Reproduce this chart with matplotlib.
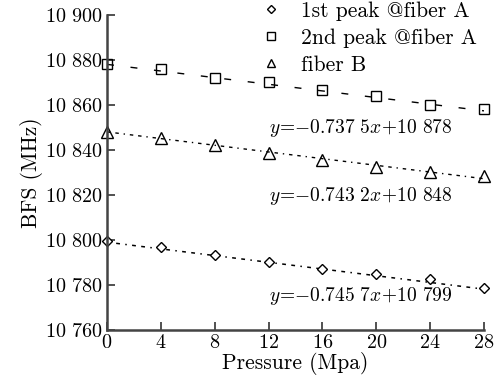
import matplotlib.pyplot as plt
import numpy as np

plt.rcParams['font.family'] = ['cmr10', 'DejaVu Serif']
plt.rcParams['mathtext.fontset'] = 'cm'
plt.rcParams['axes.unicode_minus'] = False

pressure = [0, 4, 8, 12, 16, 20, 24, 28]
peak1_A = [10799.6, 10797.0, 10793.3, 10790.2, 10787.0, 10785.0, 10782.5, 10778.6]
peak2_A = [10878.0, 10876.0, 10872.0, 10870.0, 10866.7, 10864.0, 10860.0, 10858.2]
fiber_B = [10848.0, 10845.3, 10842.0, 10838.5, 10835.5, 10832.5, 10830.0, 10828.5]

# fit coefficients as printed on the chart
fit_slope = {'p1': -0.7457, 'p2': -0.7375, 'b': -0.7432}
fit_icpt = {'p1': 10799, 'p2': 10878, 'b': 10848}
fit_text = {'p1': r'$y\!=\!{-}0.745\ 7x\!+\!10\ 799$',
            'p2': r'$y\!=\!{-}0.737\ 5x\!+\!10\ 878$',
            'b': r'$y\!=\!{-}0.743\ 2x\!+\!10\ 848$'}

yticks = [10760, 10780, 10800, 10820, 10840, 10860, 10880, 10900]
ytick_labels = [r'$10\ %s$' % str(v)[2:] for v in yticks]
xticks = [0, 4, 8, 12, 16, 20, 24, 28]

fig = plt.figure(figsize=(4.98, 3.81), dpi=100)
ax = fig.add_axes([0.215, 0.134, 0.757, 0.827])

xf = np.array([pressure[0], pressure[-1]])
ax.plot(xf, fit_slope['p2']*xf + fit_icpt['p2'], color='black', lw=1.0, dashes=(5, 12))
ax.plot(xf, fit_slope['b']*xf + fit_icpt['b'], color='black', lw=1.0, dashes=(2.5, 3.5, 2.5, 3.5, 1, 3.5))
ax.plot(xf, fit_slope['p1']*xf + fit_icpt['p1'], color='black', lw=1.1, dashes=(2.5, 3.5, 2.5, 3.5, 1, 3.5))

ax.plot(pressure, peak1_A, ls='none', marker='D', ms=5.5, mfc='white', mec='black', mew=1.0,
        label='1st peak @fiber A', clip_on=False)
ax.plot(pressure, peak2_A, ls='none', marker='s', ms=7.5, mfc='none', mec='black', mew=1.0,
        label='2nd peak @fiber A', clip_on=False)
ax.plot(pressure, fiber_B, ls='none', marker='^', ms=8.5, mfc='none', mec='black', mew=1.0,
        label='fiber B', clip_on=False)

ax.text(12.0, 10849.8, fit_text['p2'], fontsize=14, va='center', ha='left')
ax.text(12.0, 10819.6, fit_text['b'], fontsize=14, va='center', ha='left')
ax.text(12.0, 10775.1, fit_text['p1'], fontsize=14, va='center', ha='left')

ax.set_xlim(0, 28)
ax.set_ylim(10760, 10900)
ax.set_xticks(xticks)
ax.set_xticklabels([r'$%d$' % v for v in xticks])
ax.set_yticks(yticks)
ax.set_yticklabels(ytick_labels)
ax.tick_params(direction='in', labelsize=14.5, length=6, width=1.2, colors='#333333',
               labelcolor='black', pad=3)
for s in ['top', 'right']:
    ax.spines[s].set_visible(False)
for s in ['left', 'bottom']:
    ax.spines[s].set_linewidth(1.8)
    ax.spines[s].set_color('#444444')

ax.set_xlabel('Pressure (Mpa)', fontsize=15.5, labelpad=0)
ax.set_ylabel('BFS (MHz)', fontsize=15.5, labelpad=2)

ax.legend(loc='upper right', bbox_to_anchor=(1.005, 1.07), frameon=False, fontsize=15.5,
          handlelength=0.6, handletextpad=1.1, labelspacing=0.35, borderaxespad=0.0,
          markerscale=0.7)

fig.savefig('out.png', dpi=100)
